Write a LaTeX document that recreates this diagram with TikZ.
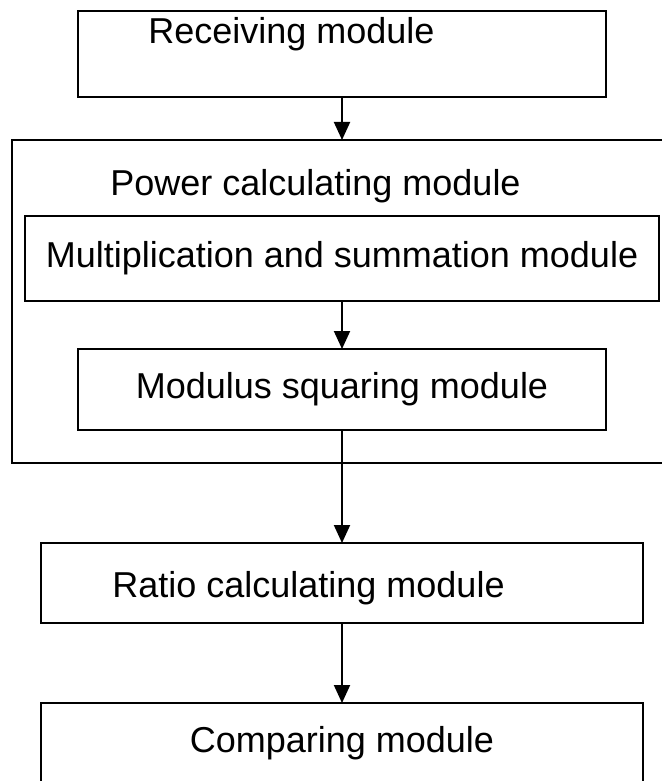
\documentclass[tikz,border=0pt]{standalone}
\usepackage{fontspec}
\setmainfont{Liberation Sans}
\usetikzlibrary{arrows.meta}
\begin{document}
\begin{tikzpicture}[x=0.5pt,y=-0.5pt,
  >={Triangle[length=9pt,width=8pt]},
  every node/.style={font=\fontsize{18}{21}\selectfont},
  box/.style={draw,line width=1pt,inner sep=0pt,outer sep=0pt},
  lbl/.style={inner sep=0pt,anchor=base west}]
\useasboundingbox (0,0) rectangle (661,781);
\node[box,minimum width=264pt,minimum height=43pt] (recv) at (342,54) {};
\node[lbl] (recvlbl) at (148,44) {Receiving module};
\node[box,minimum width=330pt,minimum height=161.5pt] (pcm) at (342,301.5) {};
\node[lbl] (pcmlbl) at (110,195) {Power calculating module};
\node[box,minimum width=317pt,minimum height=42.5pt] (mult) at (342,258.5) {Multiplication and summation module};
\node[box,minimum width=264pt,minimum height=40.5pt] (modsq) at (342,389.5) {Modulus squaring module};
\node[box,minimum width=301pt,minimum height=40pt] (ratio) at (342,583) {};
\node[lbl] (ratiolbl) at (112,597) {Ratio calculating module};
\node[box,minimum width=301pt,minimum height=40pt] (comp) at (342,743) {Comparing module};
\draw [->,line width=1pt] (recv) -- (pcm);
\draw [->,line width=1pt] (mult) -- (modsq);
\draw [->,line width=1pt] (modsq) -- (ratio);
\draw [->,line width=1pt] (ratio) -- (comp);
\end{tikzpicture}
\end{document}
